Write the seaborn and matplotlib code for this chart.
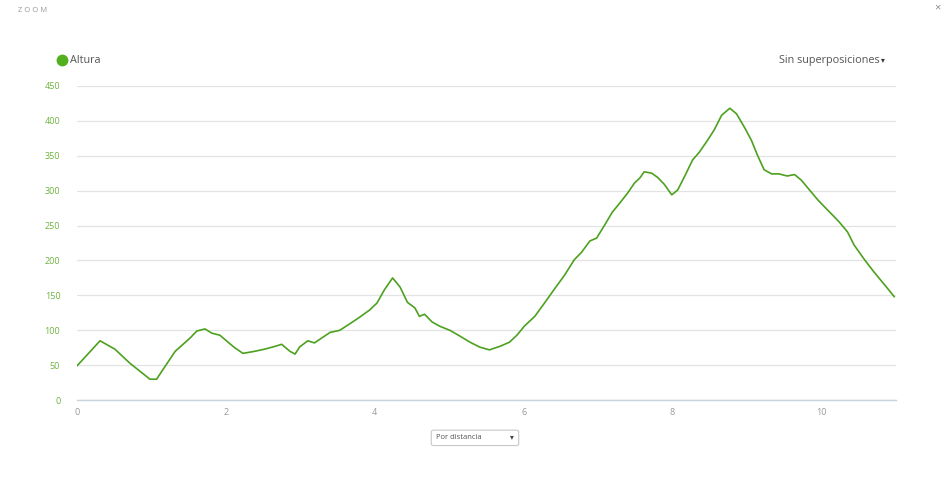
import seaborn as sns
import pandas as pd
import matplotlib.pyplot as plt
from matplotlib.lines import Line2D
from matplotlib.patches import FancyBboxPatch

# elevation profile (km, m)
distance = [0.0, 0.31, 0.51, 0.71, 0.91, 0.98, 1.07, 1.15, 1.32, 1.52, 1.61, 1.72, 1.81,
            1.92, 2.03, 2.12, 2.23, 2.39, 2.52, 2.66, 2.75, 2.86, 2.93, 2.99, 3.10, 3.19,
            3.26, 3.40, 3.53, 3.66, 3.80, 3.93, 4.03, 4.13, 4.24, 4.34, 4.44, 4.54, 4.60,
            4.67, 4.77, 4.87, 5.01, 5.14, 5.28, 5.41, 5.54, 5.68, 5.81, 5.91, 6.01, 6.15,
            6.28, 6.42, 6.55, 6.68, 6.78, 6.89, 6.98, 7.09, 7.19, 7.29, 7.40, 7.49, 7.56,
            7.62, 7.72, 7.80, 7.89, 7.99, 8.07, 8.17, 8.27, 8.36, 8.47, 8.56, 8.66, 8.77,
            8.86, 8.97, 9.06, 9.14, 9.23, 9.33, 9.43, 9.54, 9.64, 9.73, 9.84, 9.95, 10.04,
            10.15, 10.24, 10.35, 10.44, 10.58, 10.71, 10.85, 10.98]
altura = [49, 85, 73, 53, 36, 30, 30, 43, 70, 89, 99, 102, 96,
          93, 83, 75, 67, 70, 73, 77, 80, 70, 66, 76, 85, 82,
          87, 97, 100, 109, 119, 129, 139, 158, 175, 162, 140, 132, 120,
          123, 112, 106, 100, 92, 83, 76, 72, 77, 83, 93, 106, 120,
          139, 160, 179, 201, 212, 228, 232, 251, 269, 282, 297, 311, 318,
          327, 325, 319, 309, 294, 301, 322, 344, 355, 372, 387, 408, 418,
          410, 390, 372, 351, 330, 324, 324, 321, 323, 315, 301, 287, 277,
          265, 255, 241, 222, 201, 183, 165, 148]
y_ticks = [0, 50, 100, 150, 200, 250, 300, 350, 400, 450]
x_ticks = [0, 2, 4, 6, 8, 10]

green = '#4ca11f'
tick_green = '#6db33f'

sns.set_theme(style='white')
plt.rcParams['font.family'] = ['Open Sans', 'DejaVu Sans']

df = pd.DataFrame({'distancia': distance, 'altura': altura})

fig = plt.figure(figsize=(9.5, 4.88), dpi=100)
ax = fig.add_axes([0.081, 0.18, 0.862, 0.644])

sns.lineplot(data=df, x='distancia', y='altura', color=green, linewidth=1.2, ax=ax)

ax.set_xlim(0, 11)
ax.set_ylim(0, 450)
ax.set_yticks(y_ticks)
ax.set_xticks(x_ticks)
ax.set_xlabel('')
ax.set_ylabel('')
ax.grid(axis='y', color='#e3e3e3', linewidth=0.9)
ax.set_axisbelow(True)
for side in ['top', 'right', 'left']:
    ax.spines[side].set_visible(False)
ax.spines['bottom'].set_color('#c6d4dd')
ax.spines['bottom'].set_linewidth(1)
ax.tick_params(axis='y', colors=tick_green, labelsize=6.5, length=0, pad=12)
ax.tick_params(axis='x', colors='#999999', labelsize=6.5, length=0, pad=6)

# header texts
fig.text(0.019, 0.978, 'Z O O M', fontsize=5.5, color='#999999', va='center')
fig.text(0.99, 0.983, '×', fontsize=8, color='#888888', va='center', ha='right')
fig.add_artist(Line2D([0.065], [0.877], marker='o', markersize=7.5, color='#52b01e',
                      transform=fig.transFigure))
fig.text(0.0735, 0.877, 'Altura', fontsize=7.8, color='#555555', va='center')
fig.text(0.926, 0.877, 'Sin superposiciones', fontsize=7.8, color='#555555',
         va='center', ha='right')
fig.text(0.931, 0.875, '▾', fontsize=5.5, color='#333333', va='center', ha='right')

# dropdown
box = FancyBboxPatch((0.454, 0.087), 0.092, 0.0315, boxstyle='round,pad=0,rounding_size=0.003',
                     transform=fig.transFigure, facecolor='white', edgecolor='#c8c8c8',
                     linewidth=0.8)
fig.patches.append(box)
fig.text(0.459, 0.103, 'Por distancia', fontsize=5.5, color='#555555', va='center')
fig.text(0.541, 0.103, '▾', fontsize=5.5, color='#444444', va='center', ha='right')

fig.savefig('out.png', dpi=100)
